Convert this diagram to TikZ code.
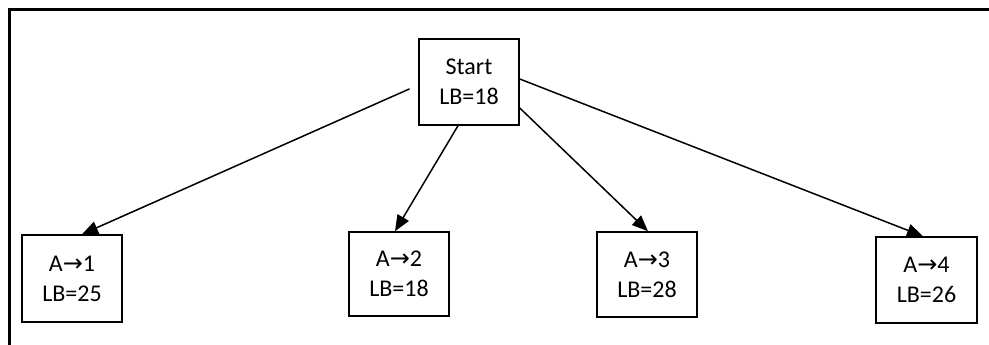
\documentclass[tikz,border=0pt]{standalone}
\usepackage{fontspec}
\setmainfont{Carlito}
\newfontfamily\arrowfont{DejaVu Sans}
\newcommand{\toarrow}{{\arrowfont\fontsize{24}{30}\selectfont →}}
\usetikzlibrary{arrows.meta}

\begin{document}
\begin{tikzpicture}[x=1pt, y=-1pt,
  state/.style={draw, line width=1.5pt, minimum width=100pt, inner sep=0pt,
    align=center, font=\fontsize{24}{30}\selectfont},
  branch/.style={line width=1.5pt, -{Triangle[length=16pt, width=13pt]}}]
  \useasboundingbox (0,0) rectangle (989,345);
  % outer frame (only the top and left edges fall inside the page)
  \draw[line width=3pt] (9.5,360) -- (9.5,9.5) -- (1000,9.5);

  % search tree nodes
  \node[state, minimum height=86pt] (start) at (469,82) {Start\\LB=18};
  \node[state, minimum height=87pt] (a1) at (72,278.5) {A\toarrow1\\LB=25};
  \node[state, minimum height=84pt] (a2) at (399,274) {A\toarrow2\\LB=18};
  \node[state, minimum height=85pt] (a3) at (647,274.5) {A\toarrow3\\LB=28};
  \node[state, minimum height=86pt, minimum width=101pt] (a4) at (926.5,280) {A\toarrow4\\LB=26};

  % branches
  \draw[branch, shorten <=9.5pt] ([yshift=-3pt]start.west) -- ([xshift=10pt]a1.north);
  \draw[branch] ([xshift=-11pt]start.south) -- ([xshift=-4pt]a2.north);
  \draw[branch] ([yshift=-26pt]start.east) -- ([xshift=1pt]a3.north);
  \draw[branch] ([yshift=3pt]start.east) -- ([xshift=-3.5pt]a4.north);
\end{tikzpicture}
\end{document}
